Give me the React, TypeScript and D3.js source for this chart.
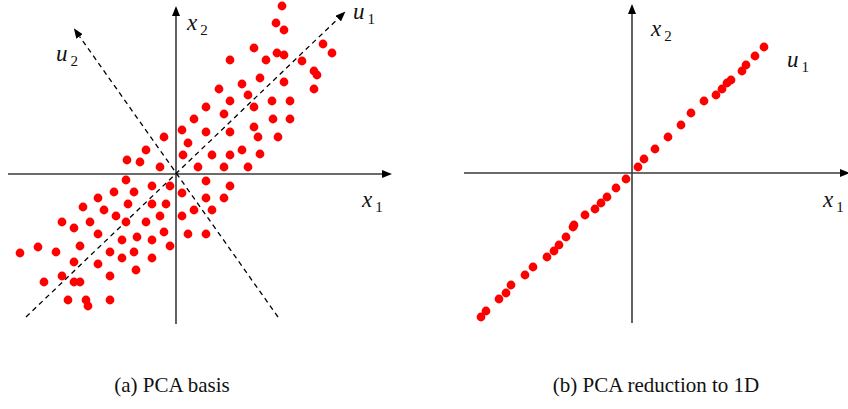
import React from 'react';
import * as d3 from 'd3';

// (a) original 2-D points
const basisPoints: [number, number][] = [
  [-4.9, 1.4], [-3.6, 1.2], [-3.0, 2.4], [-1.2, 3.7], [-1.6, 0.7],
  [10.6, 16.8], [10.0, 15.1], [10.8, 14.4], [7.8, 12.6], [14.7, 13.0],
  [15.6, 12.1], [10.1, 12.1], [10.8, 11.9], [5.4, 11.4], [9.0, 11.4],
  [12.6, 11.3], [13.8, 10.3], [14.1, 9.9], [8.4, 9.6], [6.6, 9.0],
  [10.8, 9.2], [4.3, 8.5], [13.8, 8.5], [7.2, 7.9], [5.4, 7.3],
  [9.6, 7.3], [11.4, 7.3], [3.0, 6.7], [7.8, 6.7], [4.8, 6.0],
  [1.8, 5.5], [9.7, 5.5], [11.4, 5.5], [0.6, 4.4], [3.0, 4.2],
  [5.4, 4.2], [7.8, 4.7], [8.2, 3.7], [10.2, 3.7], [1.2, 3.1],
  [6.6, 2.4], [0.7, 1.9], [3.6, 1.9], [5.4, 1.9], [8.4, 2.0],
  [2.2, 0.7], [4.8, 0.7], [7.2, 0.7],
  [-0.6, -1.2], [3.0, -0.7], [5.4, -1.2], [0.6, -1.9], [3.0, -2.4],
  [4.8, -2.4], [1.8, -3.6], [3.6, -3.6], [0.6, -4.2], [1.2, -6.0],
  [3.0, -6.0], [-0.6, -7.2],
  [-5.0, -0.6], [-2.4, -1.2], [-6.2, -1.8], [-4.2, -1.8], [-7.8, -2.4],
  [-4.8, -3.0], [-2.4, -3.0], [-1.0, -3.0], [-9.3, -3.3], [-7.2, -3.6],
  [-6.0, -4.2], [-1.6, -4.2], [-11.4, -4.8], [-8.6, -4.8], [-5.0, -4.8],
  [-3.0, -4.8], [-10.2, -5.4], [-7.8, -6.0], [-1.2, -5.8], [-5.4, -6.6],
  [-3.9, -6.3], [-2.4, -6.6], [-9.6, -7.2], [-13.8, -7.3], [-15.6, -7.9],
  [-12.0, -7.8], [-6.6, -7.8], [-4.2, -7.8], [-5.4, -8.4], [-2.4, -8.4],
  [-10.2, -8.8], [-7.8, -9.0], [-4.0, -9.6], [-11.4, -10.2], [-6.6, -10.2],
  [-13.2, -10.8], [-10.2, -10.8], [-9.6, -10.8], [-10.8, -12.6], [-9.0, -12.6],
  [-8.8, -13.2], [-6.6, -12.6],
];

// (b) points projected onto u1
const reducedPoints: [number, number][] = [
  [13.2, 12.6], [12.3, 11.7], [11.4, 10.8], [11.0, 10.2], [9.9, 9.3],
  [9.5, 9.0], [9.0, 8.4], [8.4, 7.8], [7.2, 7.2], [5.9, 6.0],
  [4.9, 4.8], [3.6, 3.6], [2.3, 2.4], [1.2, 1.4], [0.6, 0.6],
  [-0.6, -0.6], [-1.6, -1.5], [-2.5, -2.4], [-3.1, -3.0], [-3.7, -3.6],
  [-4.7, -4.2], [-5.8, -5.2], [-5.9, -5.4], [-6.6, -6.4], [-7.3, -7.2],
  [-7.8, -7.8], [-8.5, -8.4], [-9.9, -9.4], [-10.7, -10.2], [-12.1, -11.2],
  [-12.6, -12.0], [-13.3, -12.6], [-14.6, -13.8], [-15.1, -14.4],
];

// principal directions (start, arrow tip)
const u1Dir: [number, number][] = [[-15.0, -14.3], [16.8, 16.1]];
const u2Dir: [number, number][] = [[10.2, -14.3], [-10.1, 14.4]];

const captions = ['(a) PCA basis', '(b) PCA reduction to 1D'];

const Label = ({ x, y, main, sub }: { x: number; y: number; main: string; sub: string }) => (
  <text x={x} y={y} fill="#111">
    <tspan fontStyle="italic" fontSize={23}>{main}</tspan>
    <tspan dx={3} dy={5} fontSize={15}>{sub}</tspan>
  </text>
);

const App = () => {
  const xA = d3.scaleLinear().domain([-16.8, 21.4]).range([8, 390]);
  const yA = d3.scaleLinear().domain([-15, 16.6]).range([324, 8]);
  const xB = d3.scaleLinear().domain([-16.8, 21.6]).range([464, 848]);
  const yB = d3.scaleLinear().domain([-15, 16.7]).range([323, 6]);

  const axisColor = '#3a3a3a';

  const axes = (x: d3.ScaleLinear<number, number>, y: d3.ScaleLinear<number, number>) => (
    <g stroke={axisColor} strokeWidth={1.6}>
      <line x1={x.range()[0]} y1={y(0)} x2={x.range()[1] - 8} y2={y(0)} markerEnd="url(#axisArrow)" />
      <line x1={x(0)} y1={y.range()[0]} x2={x(0)} y2={y.range()[1] + 8} markerEnd="url(#axisArrow)" />
    </g>
  );

  const dashed = (d: [number, number][]) => {
    const [a, b] = d;
    const x1 = xA(a[0]), y1 = yA(a[1]), x2 = xA(b[0]), y2 = yA(b[1]);
    const len = Math.hypot(x2 - x1, y2 - y1);
    // stop the dash short so the arrowhead sits on the tip
    const k = (len - 8) / len;
    return (
      <line x1={x1} y1={y1} x2={x1 + (x2 - x1) * k} y2={y1 + (y2 - y1) * k}
        stroke="#000" strokeWidth={1.3} strokeDasharray="5,4" markerEnd="url(#dashArrow)" />
    );
  };

  return (
    <svg width={848} height={409} fontFamily="Times New Roman"
      style={{ position: 'absolute', left: 0, top: 0, background: '#fff' }}>
      <defs>
        <marker id="axisArrow" viewBox="0 0 10 8" refX={0} refY={4} markerWidth={10} markerHeight={8}
          markerUnits="userSpaceOnUse" orient="auto">
          <path d="M0,0 L10,4 L0,8 Z" fill="#000" />
        </marker>
        <marker id="dashArrow" viewBox="0 0 10 8" refX={0} refY={4} markerWidth={10} markerHeight={8}
          markerUnits="userSpaceOnUse" orient="auto">
          <path d="M0,0 L10,4 L0,8 Z" fill="#000" />
        </marker>
      </defs>

      {/* panel a */}
      {axes(xA, yA)}
      {dashed(u1Dir)}
      {dashed(u2Dir)}
      {basisPoints.map((p, i) => (
        <circle key={'a' + i} cx={xA(p[0])} cy={yA(p[1])} r={4.4} fill="#ff0000" />
      ))}
      <Label x={187} y={30} main="x" sub="2" />
      <Label x={362} y={207} main="x" sub="1" />
      <Label x={353} y={19} main="u" sub="1" />
      <Label x={56} y={61} main="u" sub="2" />

      {/* panel b */}
      {axes(xB, yB)}
      {reducedPoints.map((p, i) => (
        <circle key={'b' + i} cx={xB(p[0])} cy={yB(p[1])} r={4.4} fill="#ff0000" />
      ))}
      <Label x={651} y={36} main="x" sub="2" />
      <Label x={823} y={207} main="x" sub="1" />
      <Label x={787} y={67} main="u" sub="1" />

      <text x={172} y={392} textAnchor="middle" fontSize={21} fill="#111">{captions[0]}</text>
      <text x={656} y={392} textAnchor="middle" fontSize={21} fill="#111">{captions[1]}</text>
    </svg>
  );
};

export default App;
